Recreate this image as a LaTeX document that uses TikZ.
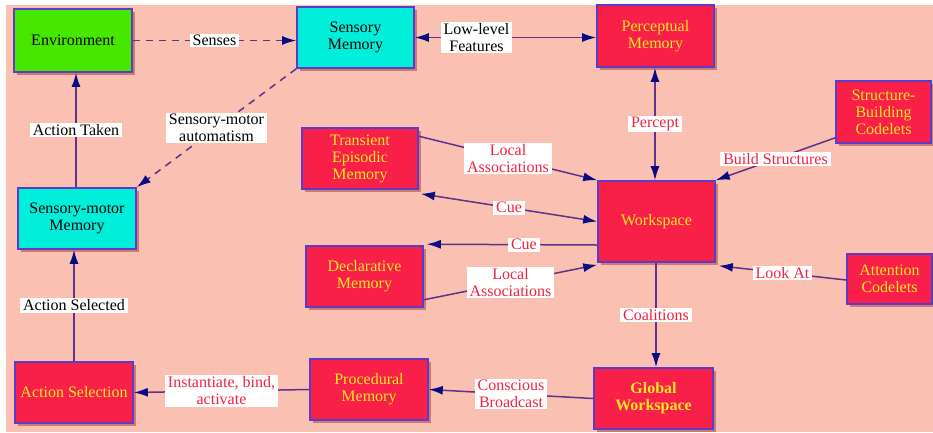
\documentclass[tikz,border=0pt]{standalone}
\usepackage{fontspec}
\setmainfont{Liberation Serif}
\usetikzlibrary{arrows.meta,shadows,calc}
\definecolor{bgpink}{RGB}{250,192,178}
\definecolor{boxred}{RGB}{248,32,72}
\definecolor{boxyellow}{RGB}{255,232,40}
\definecolor{boxcyan}{RGB}{0,238,218}
\definecolor{boxgreen}{RGB}{70,232,0}
\definecolor{bordc}{RGB}{90,60,200}
\definecolor{shadc}{RGB}{200,110,100}
\definecolor{linec}{RGB}{95,50,140}
\definecolor{arrowc}{RGB}{10,10,130}
\definecolor{labred}{RGB}{238,36,64}
\tikzset{
  navytip/.tip={Latex[length=14pt,width=9pt,color=arrowc]},
  box/.style={draw=bordc, line width=1.6pt, inner sep=0pt, align=center,
    font=\fontsize{16}{17}\selectfont,
    drop shadow={shadow xshift=3pt, shadow yshift=-3pt, fill=shadc, opacity=0.85}},
  redbox/.style={box, fill=boxred, text=boxyellow},
  cyanbox/.style={box, fill=boxcyan, text=black},
  greenbox/.style={box, fill=boxgreen, text=black},
  conn/.style={draw=linec, line width=1.5pt, -navytip},
  biconn/.style={draw=linec, line width=1.5pt, navytip-navytip},
  dashconn/.style={conn, dash pattern=on 7pt off 6pt},
  lbl/.style={fill=white, inner xsep=3pt, inner ysep=1.5pt, align=center,
    font=\fontsize{16}{17}\selectfont, text=labred},
  lblk/.style={lbl, text=black}
}
\begin{document}
\begin{tikzpicture}[x=1pt,y=-1pt]
\useasboundingbox (0,0) rectangle (933,432);
\fill[bgpink] (6,5) rectangle (933,432);

% nodes
\node[greenbox, minimum width=118pt, minimum height=63pt] (env) at (73,40.5) {Environment};
\node[cyanbox, minimum width=117pt, minimum height=61pt] (sm) at (355.5,37.5) {Sensory\\Memory};
\node[redbox, minimum width=117pt, minimum height=62pt] (pm) at (655.5,36) {Perceptual\\Memory};
\node[redbox, minimum width=95pt, minimum height=62pt] (sbc) at (883.5,112) {Structure-\\Building\\Codelets};
\node[redbox, minimum width=116pt, minimum height=61pt] (tem) at (360,158.5) {Transient\\Episodic\\Memory};
\node[redbox, minimum width=117pt, minimum height=81pt] (ws) at (656.5,221.5) {Workspace};
\node[cyanbox, minimum width=118pt, minimum height=61pt] (smm) at (77,218.5) {Sensory-motor\\Memory};
\node[redbox, minimum width=117pt, minimum height=61pt] (dm) at (364.5,276.5) {Declarative\\Memory};
\node[redbox, minimum width=85pt, minimum height=50pt] (ac) at (889.5,279) {Attention\\Codelets};
\node[redbox, minimum width=118pt, minimum height=61pt] (as) at (74,392.5) {Action Selection};
\node[redbox, minimum width=118pt, minimum height=61pt] (proc) at (369,389.5) {Procedural\\Memory};
\node[redbox, minimum width=119pt, minimum height=61pt, font=\fontsize{16}{17}\selectfont\bfseries] (gw) at (653.5,398.5) {Global\\Workspace};

% connectors
\draw[dashconn] (env.east) -- node[lblk]{Senses} (env.east -| sm.west);
\draw[biconn] (sm.east) -- node[lblk, pos=0.34]{Low-level\\Features} (sm.east -| pm.west);
\draw[dashconn] (sm.south west) -- node[lblk]{Sensory-motor\\automatism} (smm.north east);
\draw[conn] ([xshift=-1pt]smm.north) -- node[lblk]{Action Taken} ([xshift=-1pt]smm.north |- env.south);
\draw[conn] (as.north) -- node[lblk]{Action Selected} (as.north |- smm.south);
\draw[biconn] ([xshift=-0.5pt]pm.south) -- node[lbl]{Percept} ([xshift=-0.5pt]pm.south |- ws.north);
\draw[conn] ([yshift=6pt]sbc.south west) -- node[lbl]{Build Structures} (ws.north east);
\draw[conn] ([yshift=-9pt]tem.north east) -- node[lbl]{Local\\Associations} (ws.north west);
\draw[biconn] ([shift={(2pt,-4pt)}]tem.south east) -- node[lbl]{Cue} (ws.west);
\draw[conn] ([yshift=-23.5pt]ws.west) -- node[lbl, pos=0.43]{Cue} ([shift={(3pt,1pt)}]dm.north east);
\draw[conn] ([yshift=8pt]dm.south east) -- node[lbl]{Local\\Associations} ([yshift=-2pt]ws.south west);
\draw[conn] ([yshift=-1pt]ac.west) -- node[lbl]{Look At} ([shift={(3pt,-3pt)}]ws.south east);
\draw[conn] ([xshift=-0.5pt]ws.south) -- node[lbl]{Coalitions} ([xshift=-0.5pt]ws.south |- gw.north);
\draw[conn] (gw.west) -- node[lbl]{Conscious\\Broadcast} (proc.east);
\draw[conn] (proc.west) -- node[lbl]{Instantiate, bind,\\activate} (as.east);
\end{tikzpicture}
\end{document}
